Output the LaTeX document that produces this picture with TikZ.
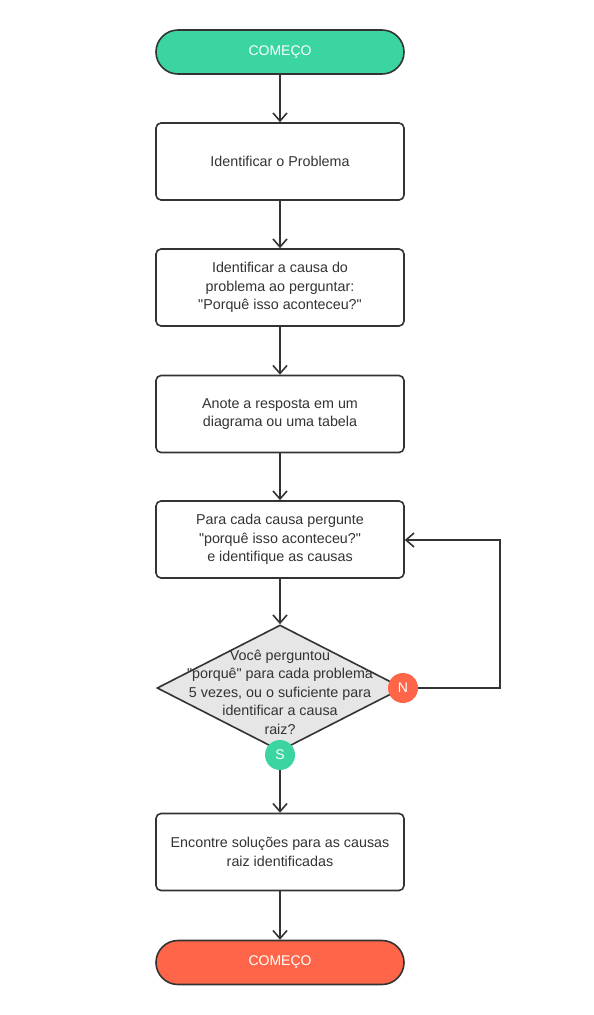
\documentclass[tikz,border=0pt]{standalone}
\usepackage{fontspec}
\setmainfont{Liberation Sans}[Ligatures=TeXOff]
\usetikzlibrary{arrows.meta,shapes.geometric}
\definecolor{cgreen}{HTML}{3AD5A0}
\definecolor{cred}{HTML}{FF6649}
\definecolor{cline}{HTML}{333333}
\definecolor{cgray}{HTML}{E6E6E6}
\begin{document}
\begin{tikzpicture}[x=1pt,y=-1pt,
  txt/.style={font=\fontsize{14.3}{18.5}\selectfont, text=cline},
  box/.style={draw=cline, line width=1.6pt, rounded corners=5pt, minimum width=248pt, minimum height=77pt, align=center, inner sep=0pt, fill=white, txt},
  pill/.style={draw=cline, line width=1.6pt, rounded corners=22pt, minimum width=248pt, minimum height=44pt, inner sep=0pt, text=white, font=\fontsize{14}{16}\selectfont},
  dec/.style={draw=cline, line width=1.6pt, shape=diamond, fill=cgray, minimum width=246pt, minimum height=126pt, inner sep=0pt},
  dot/.style={circle, minimum size=30pt, inner sep=0pt, text=white, font=\fontsize{14}{16}\selectfont},
  arr/.style={draw=cline, line width=1.6pt, -{Straight Barb[length=8pt,width=14pt,line width=1.6pt]}},
  con/.style={draw=cline, line width=1.6pt}
]
\useasboundingbox[fill=white] (0,0) rectangle (594,1015);
\node[pill, fill=cgreen] (start) at (280,52) {COMEÇO};
\node[box] (b1) at (280,161.5) {Identificar o Problema};
\node[box] (b2) at (280,287.5) {Identificar a causa do\\problema ao perguntar:\\"Porquê isso aconteceu?"};
\node[box] (b3) at (280,414) {Anote a resposta em um\\diagrama ou uma tabela};
\node[box] (b4) at (280,539.5) {Para cada causa pergunte\\"porquê isso aconteceu?"\\e identifique as causas};
\node[dec] (d) at (280,688) {};
\node[txt, align=center] (dt) at (280,692) {Você perguntou\\"porquê" para cada problema\\5 vezes, ou o suficiente para\\identificar a causa\\raiz?};
\node[dot, fill=cred] (N) at (403,688) {N};
\node[dot, fill=cgreen] (S) at (280,755) {S};
\node[box] (b5) at (280,852) {Encontre soluções para as causas\\raiz identificadas};
\node[pill, fill=cred] (end) at (280,962.5) {COMEÇO};
\coordinate (c1) at (500,688);
\coordinate (c2) at (500,540);
\draw[arr] (start.south) -- (b1.north);
\draw[arr] (b1.south) -- (b2.north);
\draw[arr] (b2.south) -- (b3.north);
\draw[arr] (b3.south) -- (b4.north);
\draw[arr] (b4.south) -- (d.north);
\draw[arr] (S.south) -- (b5.north);
\draw[arr] (b5.south) -- (end.north);
\draw[arr] (N.east) -- (c1) -- (c2) -- (b4.east |- c2);
\end{tikzpicture}
\end{document}
